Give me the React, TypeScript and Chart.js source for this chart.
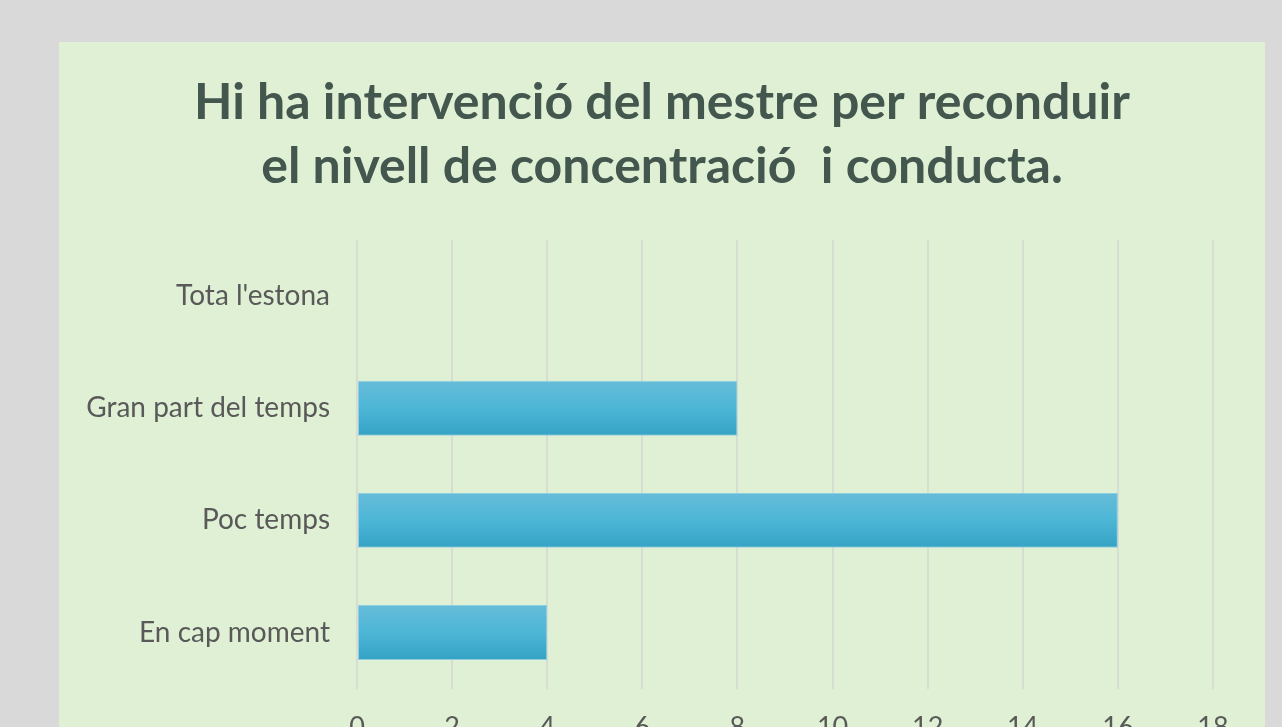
import React, { useEffect, useRef } from "react";
import { Chart, registerables } from "chart.js";

Chart.register(...registerables);

const categories = ["Tota l'estona", "Gran part del temps", "Poc temps", "En cap moment"];
const values = [0, 8, 16, 4];
const titleLines = ["Hi ha intervenció del mestre per reconduir", "el nivell de concentració  i conducta."];
const xMin = 0;
const xMax = 18;
const xStep = 2;

const PANEL_W = 1206;
const PANEL_H = 743;
const BAR_PCT = 0.49;

export default function App() {
  const ref = useRef<HTMLCanvasElement | null>(null);

  useEffect(() => {
    const canvas = ref.current;
    if (!canvas) return;
    const ctx = canvas.getContext("2d")!;
    const chart = new Chart(ctx, {
      type: "bar",
      data: {
        labels: categories,
        datasets: [
          {
            data: values,
            backgroundColor: (c: any) => {
              const ch = c.chart;
              const ys = ch.scales && ch.scales.y;
              if (!ch.chartArea || !ys || c.dataIndex === undefined) return "#4db6d6";
              const center = ys.getPixelForValue(c.dataIndex);
              const h = (ys.height / categories.length) * BAR_PCT;
              const top = center - h / 2;
              if (!isFinite(top) || !isFinite(h)) return "#4db6d6";
              const g = ch.ctx.createLinearGradient(0, top, 0, top + h);
              g.addColorStop(0, "#66bcd8");
              g.addColorStop(0.5, "#4db6d7");
              g.addColorStop(1, "#35a2c4");
              return g;
            },
            borderColor: "#8fcfe2",
            borderWidth: 1,
            borderSkipped: false,
            barPercentage: BAR_PCT,
            categoryPercentage: 1,
          },
        ],
      },
      options: {
        indexAxis: "y",
        animation: false,
        responsive: false,
        maintainAspectRatio: false,
        layout: { padding: { left: 0, right: 0, top: 0, bottom: 20 } },
        plugins: {
          legend: { display: false },
          tooltip: { enabled: false },
          title: {
            display: true,
            text: titleLines,
            color: "#44574f",
            font: { family: "Lato", size: 50, weight: "bold", lineHeight: 64 / 50 },
            padding: { top: 29, bottom: 41 },
          },
        },
        scales: {
          x: {
            min: xMin,
            max: xMax,
            ticks: {
              stepSize: xStep,
              color: "#595959",
              font: { family: "Lato", size: 27 },
              padding: 22,
            },
            grid: { color: "#d7ddd2", lineWidth: 2, drawTicks: false },
            border: { display: false },
          },
          y: {
            ticks: {
              color: "#595959",
              font: { family: "Lato", size: 28 },
              padding: 27,
            },
            grid: { display: false, drawTicks: false },
            border: { display: false },
            afterFit: (scale: any) => {
              scale.width = 298;
            },
          },
          yRight: {
            type: "category",
            position: "right",
            display: true,
            ticks: { display: false },
            grid: { display: false, drawTicks: false },
            border: { display: false },
            afterFit: (scale: any) => {
              scale.width = 52;
            },
          },
        },
      },
    });
    return () => chart.destroy();
  }, []);

  return (
    <div
      style={{
        position: "fixed",
        left: 0,
        top: 0,
        width: 1282,
        height: 727,
        background: "#d9d9d9",
        overflow: "hidden",
      }}
    >
      <div
        style={{
          position: "absolute",
          left: 59,
          top: 42,
          width: PANEL_W,
          height: PANEL_H,
          background: "#dff0d4",
        }}
      >
        <canvas ref={ref} width={PANEL_W} height={PANEL_H} style={{ display: "block" }} />
      </div>
    </div>
  );
}
